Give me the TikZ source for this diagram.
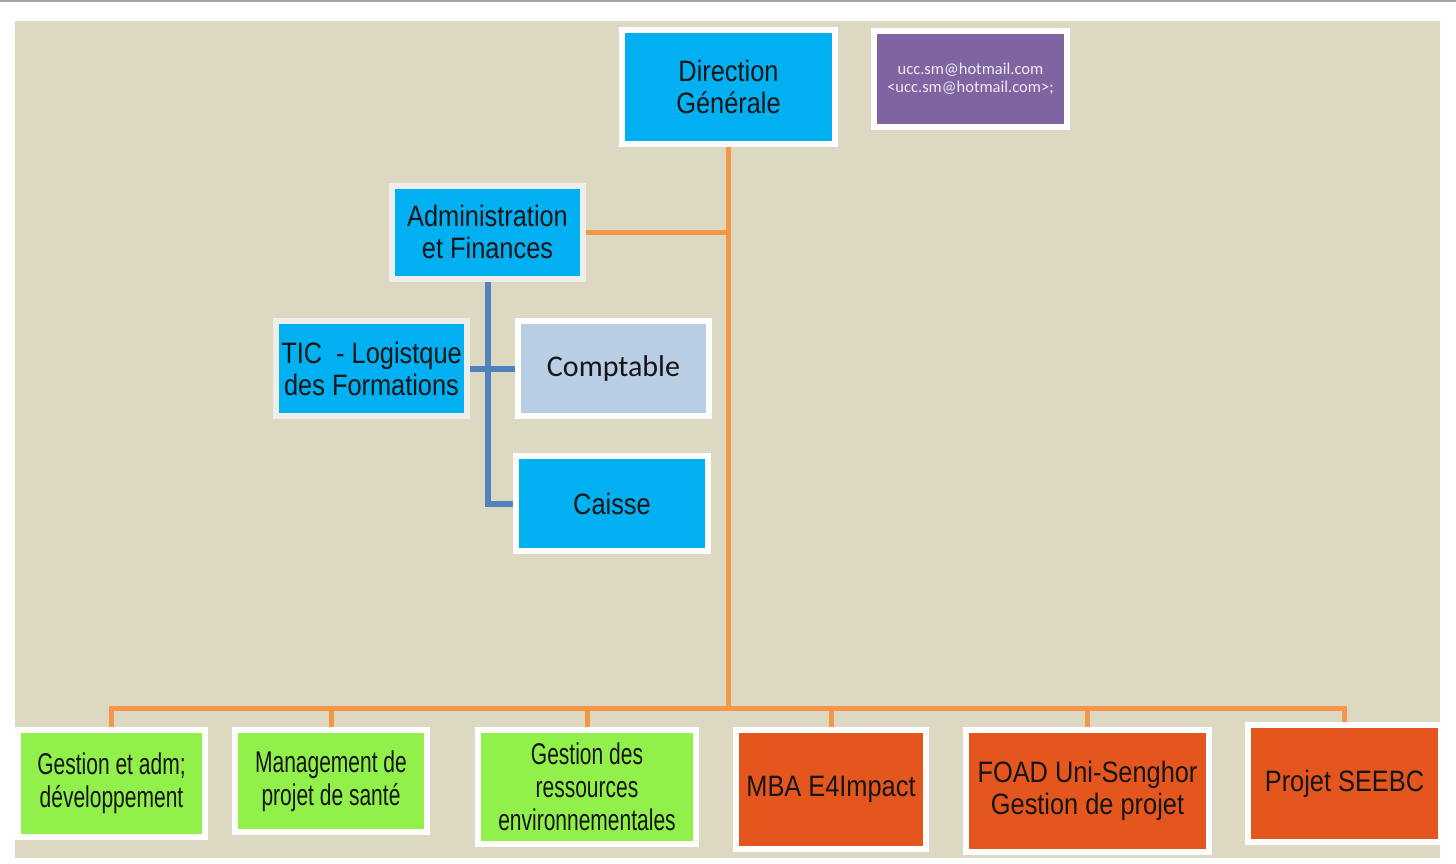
\documentclass[tikz,border=0pt]{standalone}
\usepackage{fontspec}
\setmainfont{Liberation Sans}
\newfontfamily\narrowf{Liberation Sans}[FakeStretch=0.86]
\newfontfamily\condf{Liberation Sans}[FakeStretch=0.70]
\newfontfamily\calibf{Carlito}
\definecolor{bgbeige}{HTML}{DDD8C2}
\definecolor{topline}{HTML}{A6A6A6}
\definecolor{cblue}{HTML}{00B0F0}
\definecolor{cpurple}{HTML}{8064A2}
\definecolor{clight}{HTML}{B9CDE5}
\definecolor{cgreen}{HTML}{92F04A}
\definecolor{corange}{HTML}{E4561E}
\definecolor{lorange}{HTML}{F79646}
\definecolor{lblue}{HTML}{4F81BD}
\definecolor{txt}{HTML}{151515}
\definecolor{mailtxt}{HTML}{F0ECF6}
\definecolor{offwhite}{HTML}{EEEEEA}
\pgfdeclarelayer{bg}
\pgfsetlayers{bg,main}
\begin{document}
\begin{tikzpicture}[x=1pt,y=-1pt,
  box/.style={draw=white, line width=6pt, inner sep=0pt, align=center, text=txt},
  narrowtext/.style={font=\narrowf\fontsize{29.5}{32}\selectfont},
  condtext/.style={font=\condf\fontsize{30}{33}\selectfont},
  orangeline/.style={draw=lorange, line width=5pt},
  blueline/.style={draw=lblue, line width=6pt}]
\useasboundingbox (0,0) rectangle (1456,864);
\begin{pgfonlayer}{bg}
\fill[white] (0,0) rectangle (1456,864);
\fill[topline] (0,0) rectangle (1456,2);
\fill[bgbeige] (15,21) rectangle (1440,858);
\end{pgfonlayer}
% top
\node[box, narrowtext, fill=cblue, minimum width=213pt, minimum height=114pt] (dg) at (728.5,87) {Direction\\Générale};
\node[box, fill=cpurple, minimum width=193pt, minimum height=96pt, text=mailtxt, font=\calibf\fontsize{16.5}{18}\selectfont] (mail) at (970.5,79) {ucc.sm@hotmail.com\\<ucc.sm@hotmail.com>;};
% admin branch
\node[box, narrowtext, draw=offwhite, fill=cblue, minimum width=191pt, minimum height=93pt] (admin) at (487.5,232) {Administration\\et Finances};
\node[box, narrowtext, draw=offwhite, fill=cblue, minimum width=191pt, minimum height=95pt] (tic) at (371.5,368.5) {TIC\ \ - Logistque\\des Formations};
\node[box, fill=clight, minimum width=191pt, minimum height=95pt, font=\calibf\fontsize{30}{33}\selectfont] (compta) at (613.5,368.5) {Comptable};
\node[box, narrowtext, fill=cblue, minimum width=192pt, minimum height=95pt] (caisse) at (612,503.5) {Caisse};
% bottom row
\node[box, condtext, fill=cgreen, minimum width=187pt, minimum height=107pt] (b1) at (111.5,783.5) {Gestion et adm;\\développement};
\node[box, condtext, fill=cgreen, minimum width=192pt, minimum height=102pt] (b2) at (331,781) {Management de\\projet de santé};
\node[box, condtext, fill=cgreen, minimum width=218pt, minimum height=114pt] (b3) at (587,787) {Gestion des\\ressources\\environnementales};
\node[box, narrowtext, fill=corange, minimum width=190pt, minimum height=119pt] (b4) at (831,789.5) {MBA E4Impact};
\node[box, narrowtext, fill=corange, minimum width=243pt, minimum height=122pt] (b5) at (1087.5,791) {FOAD Uni-Senghor\\Gestion de projet};
\node[box, narrowtext, fill=corange, minimum width=193pt, minimum height=117pt] (b6) at (1344.5,783.5) {Projet SEEBC};
\coordinate (bus) at (728.5,708);
\begin{pgfonlayer}{bg}
\draw[orangeline] (dg.south) -- (bus);
\draw[orangeline] (admin.east) -- (admin.east -| dg.south);
\foreach \b in {b1,b2,b3,b4,b5,b6} {
  \draw[orangeline] (\b.north) |- (bus);
}
\draw[blueline] (admin.south) |- (caisse.west);
\draw[blueline] (tic.east) -- (compta.west);
\end{pgfonlayer}
\end{tikzpicture}
\end{document}
